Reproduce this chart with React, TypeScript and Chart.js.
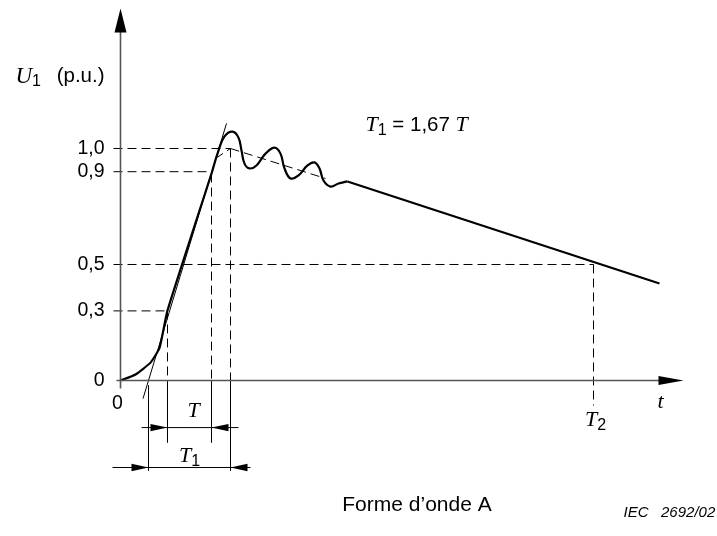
import { useEffect, useRef } from "react";
import { Chart, registerables } from "chart.js";

Chart.register(...registerables);

// ---- scale ranges (t in arbitrary time units, U in p.u.) ----
const X_MIN = -12.05;
const X_MAX = 59.65;
const Y_MIN = -0.6703;
const Y_MAX = 1.6401;

// ---- waveform data ----
const frontT = [0, 1.5, 3.0, 3.9, 4.7, 9.1];
const frontU = [0, 0.026, 0.077, 0.14, 0.302, 0.892];

const crestT = [9.1, 9.8, 10.4, 11.2, 11.8, 12.1, 12.4, 12.9, 13.6, 14.5, 15.4, 16.0, 16.4, 17.0, 17.8, 18.7, 19.4, 19.9, 20.3, 21.0, 21.8, 22.7];
const crestU = [0.892, 0.991, 1.052, 1.073, 1.047, 0.991, 0.935, 0.914, 0.927, 0.978, 1.004, 0.978, 0.914, 0.871, 0.884, 0.927, 0.94, 0.914, 0.862, 0.836, 0.849, 0.858];

const tailT = [22.7, 53.9];
const tailU = [0.858, 0.418];

// ---- tick labels ----
const yTickValues = [0, 0.3, 0.5, 0.9, 1.0];
const yTickLabels = ["0", "0,3", "0,5", "0,9", "1,0"];

// ---- characteristic times ----
const T_VIRTUAL = 2.8;
const T_30 = 4.7;
const T_90 = 9.1;
const T_PEAK = 11.0;
const T_2 = 47.3;
const T_DECAY_END = 20.5;
const U_DECAY_END = 0.871;

// dimension line levels (below axis)
const U_DIM_T = -0.203;
const U_DIM_T1 = -0.375;
const U_EXT_T = -0.267;
const U_EXT_T1 = -0.388;

type P = { x: number; y: number };
const pts = (xs: number[], ys: number[]): P[] => xs.map((x, i) => ({ x, y: ys[i] }));

const dashedSegments: [number, number, number, number][] = [
  [-0.7, 1.0, T_PEAK, 1.0],
  [-0.7, 0.9, T_90, 0.9],
  [-0.7, 0.5, T_2, 0.5],
  [-0.7, 0.3, T_30, 0.3],
  [T_30, 0.302, T_30, 0],
  [T_90, 0.892, T_90, 0],
  [T_PEAK, 1.0, T_PEAK, 0],
  [T_2, 0.5, T_2, -0.108],
  [9.5, 0.957, T_PEAK, 1.0],
  [T_PEAK, 1.0, T_DECAY_END, U_DECAY_END],
];

const thinSegments: [number, number, number, number][] = [
  [2.25, -0.078, 10.6, 1.108], // tangent of front
  [T_VIRTUAL, -0.022, T_VIRTUAL, U_EXT_T1],
  [T_30, 0, T_30, U_EXT_T],
  [T_90, 0, T_90, U_EXT_T],
  [T_PEAK, 0, T_PEAK, U_EXT_T1],
  [2.1, U_DIM_T, 11.8, U_DIM_T],
  [-0.8, U_DIM_T1, 13.0, U_DIM_T1],
];

const axisSegments: [number, number, number, number][] = [
  [-0.4, 0, 54.5, 0],
  [0, -0.034, 0, 1.55],
];

const SANS = '"Liberation Sans", Arial, sans-serif';
const SERIF = '"Liberation Serif", "Times New Roman", serif';

type Run = { t: string; f: string; dy?: number };
type Label = { x: number; y: number; align: "left" | "center" | "right"; runs: Run[] };

const it = (s: number) => `italic ${s}px ${SERIF}`;
const sn = (s: number) => `${s}px ${SANS}`;

const labels: Label[] = [
  { x: -10.5, y: 1.31, align: "left", runs: [{ t: "U", f: it(23) }, { t: "1", f: sn(16), dy: 5 }] },
  { x: -1.6, y: 1.31, align: "right", runs: [{ t: "(p.u.)", f: sn(20.5) }] },
  ...yTickValues.map((v, i) => ({ x: -1.6, y: v, align: "right" as const, runs: [{ t: yTickLabels[i], f: sn(19.5) }] })),
  { x: -0.3, y: -0.099, align: "center", runs: [{ t: "0", f: sn(19.5) }] },
  { x: 54.0, y: -0.095, align: "center", runs: [{ t: "t", f: it(22) }] },
  { x: 47.5, y: -0.172, align: "center", runs: [{ t: "T", f: it(22) }, { t: "2", f: sn(16), dy: 5 }] },
  { x: 7.3, y: -0.134, align: "center", runs: [{ t: "T", f: it(22) }] },
  { x: 6.9, y: -0.328, align: "center", runs: [{ t: "T", f: it(22) }, { t: "1", f: sn(16), dy: 5 }] },
  { x: 24.5, y: 1.099, align: "left", runs: [{ t: "T", f: it(22) }, { t: "1", f: sn(16), dy: 5 }, { t: " = 1,67 ", f: sn(20.5) }, { t: "T", f: it(22) }] },
  { x: 29.65, y: -0.539, align: "center", runs: [{ t: "Forme d\u2019onde A", f: sn(21) }] },
  { x: 50.3, y: -0.569, align: "left", runs: [{ t: "IEC   2692/02", f: `italic 15px ${SANS}` }] },
];

type Arrow = { x: number; y: number; dir: "up" | "right" | "left"; len: number; half: number };
const arrows: Arrow[] = [
  { x: 0, y: 1.604, dir: "up", len: 24, half: 6 },
  { x: 56.3, y: 0, dir: "right", len: 25, half: 4.5 },
  { x: T_30, y: U_DIM_T, dir: "right", len: 17, half: 3.7 },
  { x: T_90, y: U_DIM_T, dir: "left", len: 17, half: 3.7 },
  { x: T_VIRTUAL, y: U_DIM_T1, dir: "right", len: 17, half: 3.7 },
  { x: T_PEAK, y: U_DIM_T1, dir: "left", len: 17, half: 3.7 },
];

const overlayPlugin = {
  id: "overlay",
  afterDatasetsDraw(chart: any) {
    const ctx: CanvasRenderingContext2D = chart.ctx;
    const xs = chart.scales.x;
    const ys = chart.scales.y;
    ctx.save();
    ctx.fillStyle = "#000";
    for (const a of arrows) {
      const px = xs.getPixelForValue(a.x);
      const py = ys.getPixelForValue(a.y);
      ctx.beginPath();
      if (a.dir === "up") {
        ctx.moveTo(px, py);
        ctx.lineTo(px - a.half, py + a.len);
        ctx.lineTo(px + a.half, py + a.len);
      } else if (a.dir === "right") {
        ctx.moveTo(px, py);
        ctx.lineTo(px - a.len, py - a.half);
        ctx.lineTo(px - a.len, py + a.half);
      } else {
        ctx.moveTo(px, py);
        ctx.lineTo(px + a.len, py - a.half);
        ctx.lineTo(px + a.len, py + a.half);
      }
      ctx.closePath();
      ctx.fill();
    }
    ctx.textBaseline = "middle";
    ctx.textAlign = "left";
    for (const l of labels) {
      let w = 0;
      for (const r of l.runs) {
        ctx.font = r.f;
        w += ctx.measureText(r.t).width;
      }
      let px = xs.getPixelForValue(l.x);
      const py = ys.getPixelForValue(l.y);
      if (l.align === "center") px -= w / 2;
      else if (l.align === "right") px -= w;
      for (const r of l.runs) {
        ctx.font = r.f;
        ctx.fillText(r.t, px, py + (r.dy || 0));
        px += ctx.measureText(r.t).width;
      }
    }
    ctx.restore();
  },
};

const segDataset = (s: [number, number, number, number], color: string, width: number, dash: number[]) => ({
  data: [{ x: s[0], y: s[1] }, { x: s[2], y: s[3] }],
  borderColor: color,
  borderWidth: width,
  borderDash: dash,
  pointRadius: 0,
  tension: 0,
  fill: false,
  clip: false as const,
});

export default function App() {
  const ref = useRef<HTMLCanvasElement | null>(null);
  useEffect(() => {
    if (!ref.current) return;
    const datasets: any[] = [
      ...axisSegments.map((s) => segDataset(s, "#555", 1.6, [])),
      ...dashedSegments.map((s) => segDataset(s, "#000", 1, [9, 5])),
      ...thinSegments.map((s) => segDataset(s, "#000", 1, [])),
      { data: pts(frontT, frontU), borderColor: "#000", borderWidth: 2.2, pointRadius: 0, tension: 0.15, fill: false, clip: false, borderJoinStyle: "round" },
      { data: pts(crestT, crestU), borderColor: "#000", borderWidth: 2.2, pointRadius: 0, tension: 0.4, fill: false, clip: false },
      { data: pts(tailT, tailU), borderColor: "#000", borderWidth: 2.2, pointRadius: 0, tension: 0, fill: false, clip: false },
    ];
    const chart = new Chart(ref.current, {
      type: "line",
      data: { datasets },
      options: {
        animation: false,
        responsive: false,
        devicePixelRatio: 1,
        events: [],
        layout: { padding: 0 },
        plugins: { legend: { display: false }, tooltip: { enabled: false } },
        scales: {
          x: { type: "linear", min: X_MIN, max: X_MAX, display: false },
          y: { type: "linear", min: Y_MIN, max: Y_MAX, display: false },
        },
      },
      plugins: [overlayPlugin],
    });
    return () => chart.destroy();
  }, []);
  return (
    <div style={{ position: "fixed", left: 0, top: 0, width: 717, height: 536, background: "#fff" }}>
      <canvas ref={ref} width={717} height={536} style={{ display: "block" }} />
    </div>
  );
}
